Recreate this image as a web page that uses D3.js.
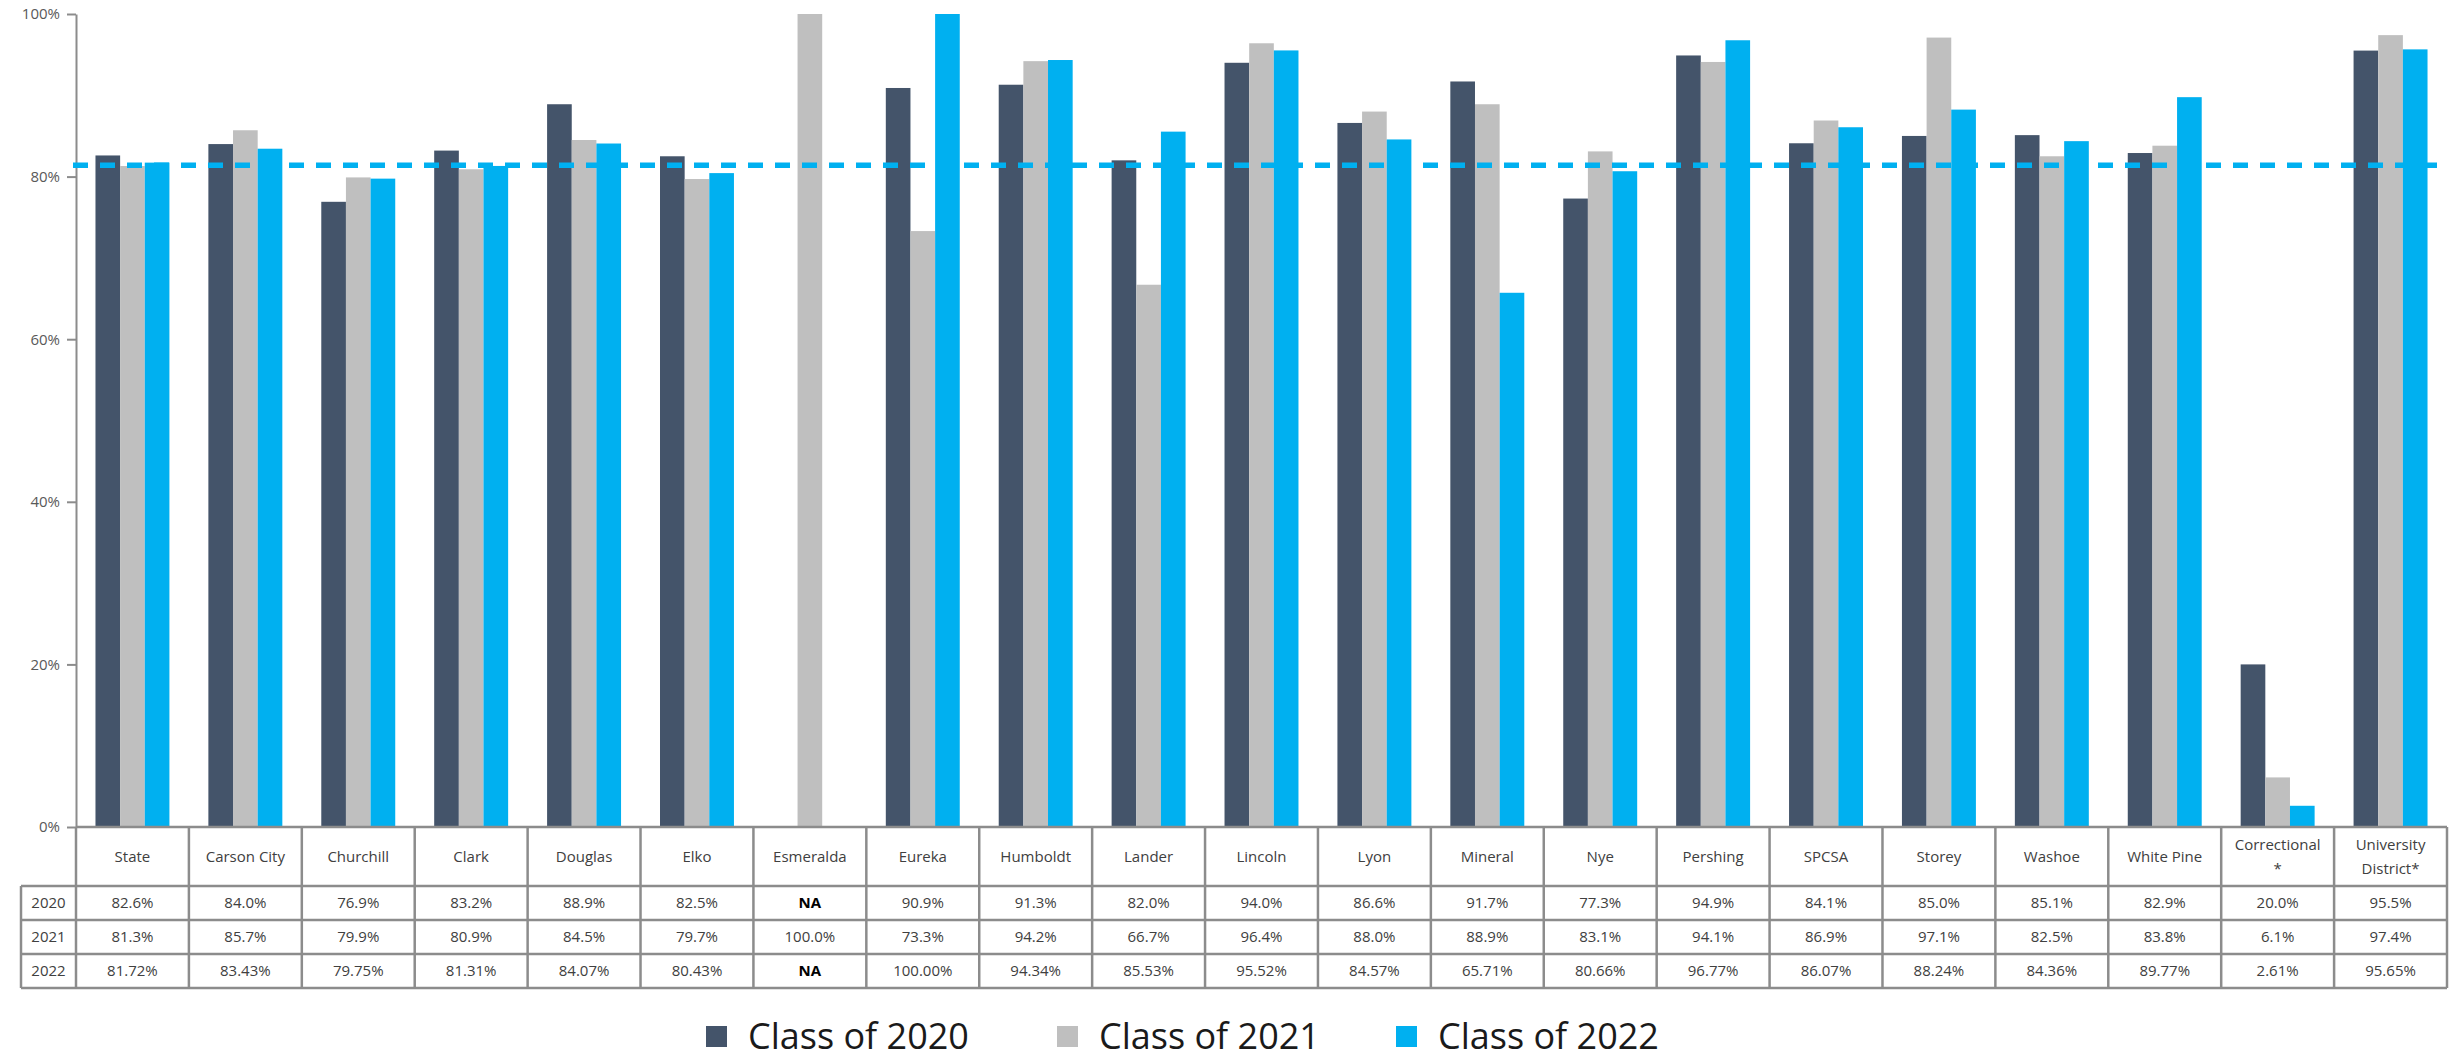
<!DOCTYPE html>
<html>
<head>
<meta charset="utf-8">
<script src="https://cdn.jsdelivr.net/npm/d3@7"></script>
<style>
    body { margin: 0; background: #fff; }
    svg { display: block; font-family: "Open Sans", sans-serif; }
</style>
</head>
<body>
<script>
// districts shown along the x axis (header row of the table)
const districts = ["State", "Carson City", "Churchill", "Clark", "Douglas", "Elko", "Esmeralda", "Eureka",
    "Humboldt", "Lander", "Lincoln", "Lyon", "Mineral", "Nye", "Pershing", "SPCSA", "Storey", "Washoe",
    "White Pine", "Correctional\n*", "University\nDistrict*"];
const years = ["2020", "2021", "2022"];
const seriesNames = ["Class of 2020", "Class of 2021", "Class of 2022"];
// null = NA
const class2020 = [82.6, 84.0, 76.9, 83.2, 88.9, 82.5, null, 90.9, 91.3, 82.0, 94.0, 86.6, 91.7, 77.3, 94.9, 84.1, 85.0, 85.1, 82.9, 20.0, 95.5];
const class2021 = [81.3, 85.7, 79.9, 80.9, 84.5, 79.7, 100.0, 73.3, 94.2, 66.7, 96.4, 88.0, 88.9, 83.1, 94.1, 86.9, 97.1, 82.5, 83.8, 6.1, 97.4];
const class2022 = [81.72, 83.43, 79.75, 81.31, 84.07, 80.43, null, 100.00, 94.34, 85.53, 95.52, 84.57, 65.71, 80.66, 96.77, 86.07, 88.24, 84.36, 89.77, 2.61, 95.65];
const decimals = [1, 1, 2]; // how the table prints each year
const yTicks = [0, 20, 40, 60, 80, 100];
const stateLine = 81.4; // dashed reference line

const colors = ["#44546A", "#BFBFBF", "#00B0F0"];
const allSeries = [class2020, class2021, class2022];

const width = 2458, height = 1060;
const svg = d3.select("body").append("svg")
    .attr("width", width)
    .attr("height", height);

// scales
const x = d3.scaleBand().domain(districts).range([76, 2447]);
const xSub = d3.scaleBand().domain(seriesNames).range([0, x.bandwidth()]).paddingOuter(0.79);
const y = d3.scaleLinear().domain([0, 100]).range([827, 14]);

// bars
const bars = svg.append("g");
allSeries.forEach((values, s) => {
    bars.selectAll(null)
        .data(values.map((v, i) => ({ v: v, name: districts[i] })).filter(d => d.v !== null))
        .join("rect")
        .attr("x", d => x(d.name) + xSub(seriesNames[s]))
        .attr("y", d => y(d.v))
        .attr("width", xSub.bandwidth())
        .attr("height", d => y(0) - y(d.v))
        .attr("fill", colors[s]);
});

// y axis
const yAxis = svg.append("g")
    .attr("transform", "translate(76,0)")
    .call(d3.axisLeft(y).tickValues(yTicks).tickFormat(d => d + "%").tickSize(9).tickSizeOuter(0).tickPadding(7));
yAxis.select(".domain").attr("stroke", "#8C8C8C").attr("stroke-width", 2);
yAxis.selectAll(".tick line").attr("stroke", "#8C8C8C").attr("stroke-width", 2);
yAxis.selectAll(".tick text").attr("fill", "#595959").style("font-size", "15px").style("font-family", "'Open Sans', sans-serif");

// dashed line
svg.append("line")
    .attr("x1", 73).attr("x2", x.range()[1])
    .attr("y1", y(stateLine)).attr("y2", y(stateLine))
    .attr("stroke", "#00B0F0")
    .attr("stroke-width", 5.5)
    .attr("stroke-dasharray", "15,12");

// data table under the chart
const headerTop = 827, headerBottom = 886;
const rowY = d3.scaleBand().domain(years).range([headerBottom, 988]);
const labelLeft = 21;
const table = svg.append("g");
const gridColor = "#8C8C8C";

// horizontal lines
table.append("line").attr("x1", x.range()[0]).attr("x2", x.range()[1])
    .attr("y1", headerTop).attr("y2", headerTop).attr("stroke", gridColor).attr("stroke-width", 2.5);
[headerBottom].concat(years.map(yr => rowY(yr) + rowY.bandwidth())).forEach(yy => {
    table.append("line").attr("x1", labelLeft).attr("x2", x.range()[1])
        .attr("y1", yy).attr("y2", yy).attr("stroke", gridColor).attr("stroke-width", 2.5);
});
// vertical lines
const colEdges = districts.map(d => x(d)).concat([x.range()[1]]);
table.selectAll(null).data(colEdges).join("line")
    .attr("x1", d => d).attr("x2", d => d)
    .attr("y1", headerTop).attr("y2", rowY.range()[1])
    .attr("stroke", gridColor).attr("stroke-width", 2.5);
table.append("line").attr("x1", labelLeft).attr("x2", labelLeft)
    .attr("y1", headerBottom).attr("y2", rowY.range()[1])
    .attr("stroke", gridColor).attr("stroke-width", 2.5);

// header text
districts.forEach(d => {
    const lines = d.split("\n");
    const cy = (headerTop + headerBottom) / 2;
    const t = table.append("text")
        .attr("x", x(d) + x.bandwidth() / 2)
        .attr("text-anchor", "middle")
        .attr("fill", "#404040")
        .style("font-size", "15px");
    lines.forEach((ln, k) => {
        t.append("tspan")
            .attr("x", x(d) + x.bandwidth() / 2)
            .attr("y", cy + (k - (lines.length - 1) / 2) * 24)
            .attr("dy", "0.35em")
            .text(ln);
    });
});

// year labels + values
years.forEach((yr, r) => {
    const cy = rowY(yr) + rowY.bandwidth() / 2;
    table.append("text")
        .attr("x", (labelLeft + x.range()[0]) / 2)
        .attr("y", cy).attr("dy", "0.35em")
        .attr("text-anchor", "middle")
        .attr("fill", "#404040")
        .style("font-size", "15px")
        .text(yr);
    allSeries[r].forEach((v, i) => {
        table.append("text")
            .attr("x", x(districts[i]) + x.bandwidth() / 2)
            .attr("y", cy).attr("dy", "0.35em")
            .attr("text-anchor", "middle")
            .attr("fill", v === null ? "#000" : "#404040")
            .style("font-size", "15px")
            .style("font-weight", v === null ? "bold" : "normal")
            .text(v === null ? "NA" : v.toFixed(decimals[r]) + "%");
    });
});

// legend
const legendX = [706, 1057, 1396];
const legend = svg.append("g");
seriesNames.forEach((name, s) => {
    legend.append("rect")
        .attr("x", legendX[s]).attr("y", 1026)
        .attr("width", 21).attr("height", 21)
        .attr("fill", colors[s]);
    legend.append("text")
        .attr("x", legendX[s] + 42).attr("y", 1049)
        .attr("fill", "#1a1a1a")
        .style("font-size", "36px")
        .text(name);
});
</script>
</body>
</html>
